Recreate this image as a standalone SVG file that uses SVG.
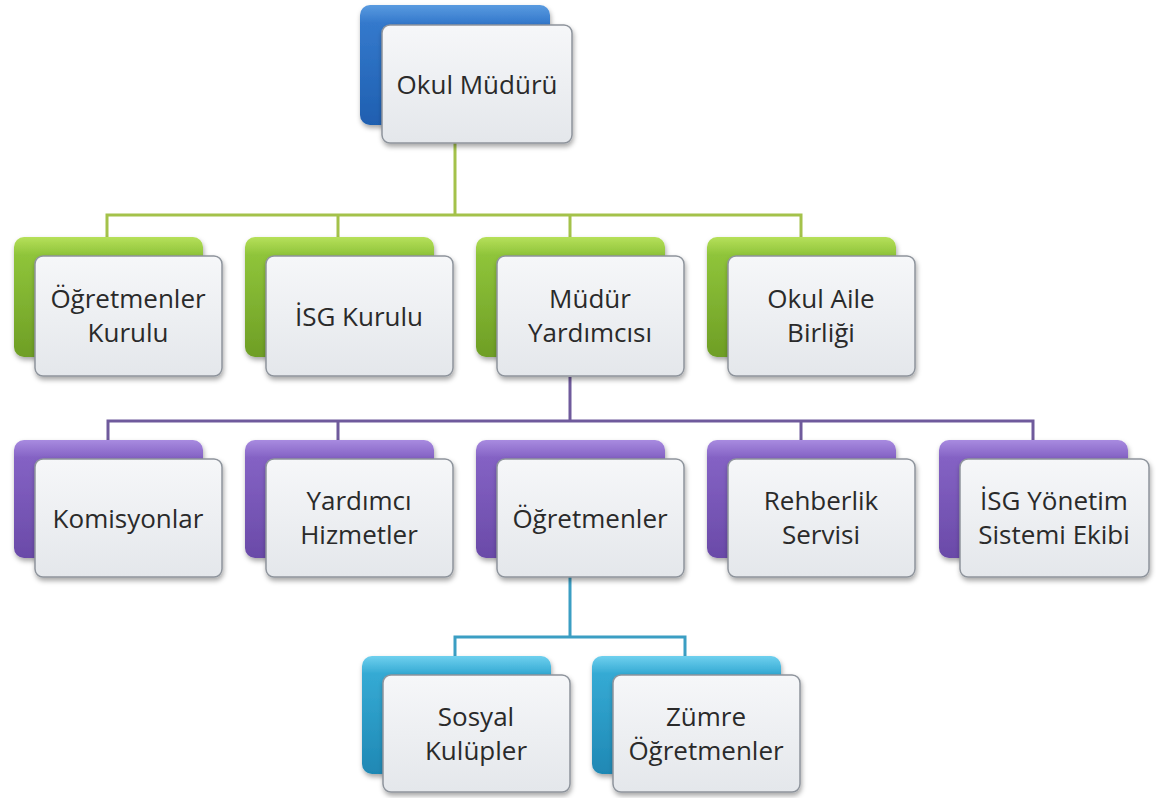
<svg xmlns="http://www.w3.org/2000/svg" width="1156" height="798" viewBox="0 0 1156 798">
<defs>
<linearGradient id="gBlue" x1="0" y1="0" x2="0" y2="1"><stop offset="0" stop-color="#5a9be0"/><stop offset="0.15" stop-color="#3479cc"/><stop offset="1" stop-color="#1f5fb0"/></linearGradient>
<linearGradient id="gGreen" x1="0" y1="0" x2="0" y2="1"><stop offset="0" stop-color="#b6e05a"/><stop offset="0.15" stop-color="#8fc43a"/><stop offset="1" stop-color="#6e9e25"/></linearGradient>
<linearGradient id="gPurple" x1="0" y1="0" x2="0" y2="1"><stop offset="0" stop-color="#a88be0"/><stop offset="0.15" stop-color="#8462c4"/><stop offset="1" stop-color="#6a4aa8"/></linearGradient>
<linearGradient id="gCyan" x1="0" y1="0" x2="0" y2="1"><stop offset="0" stop-color="#6fd0ee"/><stop offset="0.15" stop-color="#35aad4"/><stop offset="1" stop-color="#1f88b4"/></linearGradient>
<linearGradient id="gFront" x1="0" y1="0" x2="0" y2="1"><stop offset="0" stop-color="#f6f7f9"/><stop offset="1" stop-color="#e4e7eb"/></linearGradient>
<filter id="sh" x="-10%" y="-10%" width="125%" height="130%"><feDropShadow dx="1" dy="3" stdDeviation="2.5" flood-color="#000" flood-opacity="0.35"/></filter>
</defs>
<style>
.bk{stroke:none;filter:url(#sh)}
.blue{fill:url(#gBlue)}
.green{fill:url(#gGreen)}
.purple{fill:url(#gPurple)}
.cyan{fill:url(#gCyan)}
.fr{fill:url(#gFront);stroke:#8e949c;stroke-width:1.5;filter:url(#sh)}
.t{font-family:"Open Sans","Noto Sans","DejaVu Sans",sans-serif;font-size:26px;fill:#2a2a2a;text-anchor:middle;dominant-baseline:central}
.c{fill:none;stroke-width:3}
.cg{stroke:#a4c24a}
.cp{stroke:#6f5a9c}
.cc{stroke:#3b9ec3}
</style>
<rect width="1156" height="798" fill="#ffffff"/>
<g id="connectors">
<path class="c cg" d="M455 143 V215 M107 237 V215 H801 V237 M338 215 V237 M570 215 V237"/>
<path class="c cp" d="M570 377 V421 M108 440 V421 H1033 V440 M338 421 V440 M801 421 V440"/>
<path class="c cc" d="M570 577 V637 M455 657 V637 H685 V657"/>
</g>
<g id="n-okul-muduru"><rect class="bk blue" x="360" y="5" width="190" height="120" rx="10"/><rect class="fr" x="382" y="25" width="190" height="118" rx="8"/><text class="t" x="477" y="84">Okul Müdürü</text></g>
<g id="n-ogretmenler-kurulu"><rect class="bk green" x="14" y="237" width="189" height="120" rx="10"/><rect class="fr" x="35" y="256" width="187" height="120" rx="8"/><text class="t" x="128" y="298">Öğretmenler</text><text class="t" x="128" y="332">Kurulu</text></g>
<g id="n-isg-kurulu"><rect class="bk green" x="245" y="237" width="189" height="120" rx="10"/><rect class="fr" x="266" y="256" width="187" height="120" rx="8"/><text class="t" x="359" y="316">İSG Kurulu</text></g>
<g id="n-mudur-yardimcisi"><rect class="bk green" x="476" y="237" width="189" height="120" rx="10"/><rect class="fr" x="497" y="256" width="187" height="120" rx="8"/><text class="t" x="590" y="298">Müdür</text><text class="t" x="590" y="332">Yardımcısı</text></g>
<g id="n-okul-aile-birligi"><rect class="bk green" x="707" y="237" width="189" height="120" rx="10"/><rect class="fr" x="728" y="256" width="187" height="120" rx="8"/><text class="t" x="821" y="298">Okul Aile</text><text class="t" x="821" y="332">Birliği</text></g>
<g id="n-komisyonlar"><rect class="bk purple" x="14" y="440" width="189" height="118" rx="10"/><rect class="fr" x="35" y="459" width="187" height="118" rx="8"/><text class="t" x="128" y="518">Komisyonlar</text></g>
<g id="n-yardimci-hizmetler"><rect class="bk purple" x="245" y="440" width="189" height="118" rx="10"/><rect class="fr" x="266" y="459" width="187" height="118" rx="8"/><text class="t" x="359" y="500">Yardımcı</text><text class="t" x="359" y="534">Hizmetler</text></g>
<g id="n-ogretmenler"><rect class="bk purple" x="476" y="440" width="189" height="118" rx="10"/><rect class="fr" x="497" y="459" width="187" height="118" rx="8"/><text class="t" x="590" y="518">Öğretmenler</text></g>
<g id="n-rehberlik-servisi"><rect class="bk purple" x="707" y="440" width="189" height="118" rx="10"/><rect class="fr" x="728" y="459" width="187" height="118" rx="8"/><text class="t" x="821" y="500">Rehberlik</text><text class="t" x="821" y="534">Servisi</text></g>
<g id="n-isg-yonetim"><rect class="bk purple" x="939" y="440" width="189" height="118" rx="10"/><rect class="fr" x="960" y="459" width="189" height="118" rx="8"/><text class="t" x="1054" y="500">İSG Yönetim</text><text class="t" x="1054" y="534">Sistemi Ekibi</text></g>
<g id="n-sosyal-kulupler"><rect class="bk cyan" x="362" y="656" width="189" height="118" rx="10"/><rect class="fr" x="383" y="675" width="187" height="117" rx="8"/><text class="t" x="476" y="716">Sosyal</text><text class="t" x="476" y="750">Kulüpler</text></g>
<g id="n-zumre-ogretmenler"><rect class="bk cyan" x="592" y="656" width="189" height="118" rx="10"/><rect class="fr" x="613" y="675" width="187" height="117" rx="8"/><text class="t" x="706" y="716">Zümre</text><text class="t" x="706" y="750">Öğretmenler</text></g>
</svg>
